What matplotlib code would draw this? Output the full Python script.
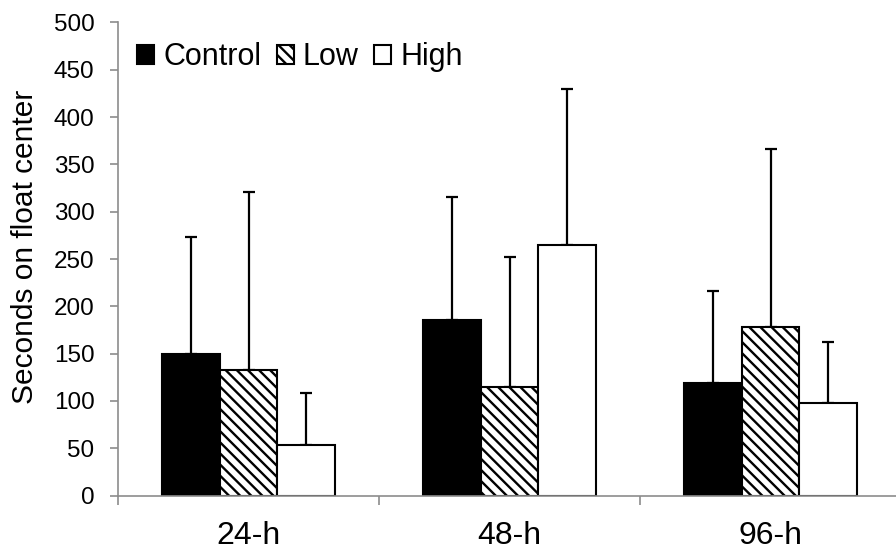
import matplotlib
matplotlib.use("Agg")
import matplotlib.pyplot as plt
import numpy as np

plt.rcParams['font.family'] = ['Liberation Sans', 'DejaVu Sans']
plt.rcParams['hatch.linewidth'] = 1.7

# Data: mean seconds on float center, with upper standard deviation
timepoints = ["24-h", "48-h", "96-h"]
groups = ["Control", "Low", "High"]
control_mean = [150, 185, 119]
control_err = [123, 131, 97]
low_mean = [133, 115, 178]
low_err = [188, 137, 188]
high_mean = [53, 265, 98]
high_err = [55, 165, 64]
yticks = [0, 50, 100, 150, 200, 250, 300, 350, 400, 450, 500]

W, H = 896, 552
fig = plt.figure(figsize=(W / 100, H / 100), dpi=100)
ax = fig.add_axes([118 / W, 1 - 495.5 / H, 783 / W, (495.5 - 22.5) / H])

centers = np.arange(len(timepoints)) + 0.5
bw = 0.222
styles = [
    dict(color="black", edgecolor="black", hatch=None),
    dict(color="white", edgecolor="black", hatch="\\\\\\"),
    dict(color="white", edgecolor="black", hatch=None),
]
means = [control_mean, low_mean, high_mean]
errs = [control_err, low_err, high_err]
handles = []
for i, (m, e, st) in enumerate(zip(means, errs, styles)):
    x = centers + (i - 1) * bw
    bars = ax.bar(x, m, width=bw, facecolor=st["color"], edgecolor=st["edgecolor"],
                  hatch=st["hatch"], linewidth=1.5, zorder=2)
    ax.errorbar(x, m, yerr=[np.zeros(len(e)), e], fmt="none", ecolor="black",
                elinewidth=1.6, capsize=4, capthick=1.6, zorder=1)
    handles.append(bars)

ax.set_xlim(0, 3)
ax.set_ylim(0, 500)
ax.set_yticks(yticks)

grey = "#8c8c8c"
for s in ["top", "right"]:
    ax.spines[s].set_visible(False)
for s in ["left", "bottom"]:
    ax.spines[s].set_color(grey)
    ax.spines[s].set_linewidth(1.2)

ax.tick_params(axis="y", direction="out", length=6, width=1.2, color=grey,
               labelsize=17.5, pad=11)
ax.set_xticks([0, 1, 2, 3])
ax.set_xticklabels([])
ax.set_xticks(centers, minor=True)
ax.set_xticklabels(timepoints, minor=True)
ax.tick_params(axis="x", which="major", direction="out", length=6.5, width=1.2, color=grey)
ax.tick_params(axis="x", which="minor", length=0, labelsize=23, pad=18)

fig.text(25 / W, 1 - 246.5 / H, "Seconds on float center", rotation=90,
         fontsize=21.5, ha="center", va="center")

fig.legend(handles, groups, loc="center left", bbox_to_anchor=(137 / W, 1 - 57 / H),
           bbox_transform=fig.transFigure, ncol=3, frameon=False, fontsize=22,
           handlelength=0.56, handleheight=0.56, handletextpad=0.3,
           columnspacing=0.5, borderpad=0, borderaxespad=0)

fig.savefig("out.png", dpi=100)
